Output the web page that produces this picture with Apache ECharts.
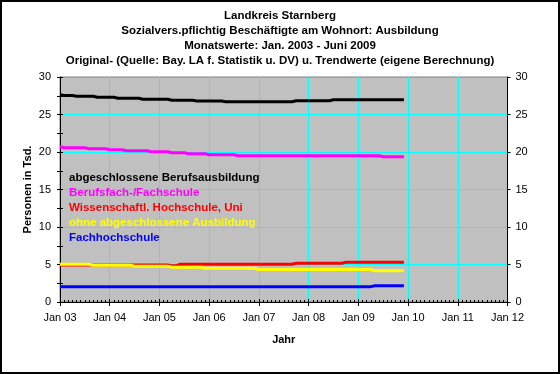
<!DOCTYPE html>
<html><head><meta charset="utf-8">
<script src="https://cdn.jsdelivr.net/npm/echarts@6/dist/echarts.min.js"></script>
<style>html,body{margin:0;padding:0;background:#fff}#c{width:560px;height:374px}</style>
</head><body><div id="c"></div>
<script>
// ---- data ----
const titleLines = [
  'Landkreis Starnberg',
  'Sozialvers.pflichtig Beschäftigte am Wohnort: Ausbildung',
  'Monatswerte: Jan. 2003 - Juni 2009',
  'Original- (Quelle: Bay. LA f. Statistik u. DV) u. Trendwerte (eigene Berechnung)'
];
const xTickLabels = ['Jan 03','Jan 04','Jan 05','Jan 06','Jan 07','Jan 08','Jan 09','Jan 10','Jan 11','Jan 12'];
const xAxisName = 'Jahr';
const yAxisName = 'Personen in Tsd.';
const seriesNames = [
  'abgeschlossene Berufsausbildung',
  'Berufsfach-/Fachschule',
  'Wissenschaftl. Hochschule, Uni',
  'ohne abgeschlossene Ausbildung',
  'Fachhochschule'
];
// monthly values Jan 2003 .. Dec 2009 (thousands)
const berufsausbildung = [
  27.62,27.53,27.53,27.53,27.43,27.43,27.43,27.43,27.43,27.30,27.30,27.30,
  27.30,27.30,27.17,27.17,27.17,27.17,27.17,27.17,27.03,27.03,27.03,27.03,
  27.03,27.03,27.03,26.90,26.90,26.90,26.90,26.90,26.90,26.80,26.80,26.80,
  26.80,26.80,26.80,26.80,26.70,26.70,26.70,26.70,26.70,26.70,26.70,26.70,
  26.70,26.70,26.70,26.70,26.70,26.70,26.70,26.70,26.70,26.83,26.83,26.83,
  26.83,26.83,26.83,26.83,26.83,26.83,26.97,26.97,26.97,26.97,26.97,26.97,
  26.97,26.97,26.97,26.97,26.97,26.97,26.97,26.97,26.97,26.97,26.97,26.97
];
const berufsfachschule = [
  20.70,20.57,20.57,20.57,20.57,20.57,20.57,20.44,20.44,20.44,20.44,20.44,
  20.30,20.30,20.30,20.30,20.17,20.17,20.17,20.17,20.17,20.17,20.04,20.04,
  20.04,20.04,20.04,19.90,19.90,19.90,19.90,19.77,19.77,19.77,19.77,19.77,
  19.64,19.64,19.64,19.64,19.64,19.64,19.64,19.50,19.50,19.50,19.50,19.50,
  19.50,19.50,19.50,19.50,19.50,19.50,19.50,19.50,19.50,19.50,19.50,19.50,
  19.50,19.50,19.50,19.50,19.50,19.50,19.50,19.50,19.50,19.50,19.50,19.50,
  19.50,19.50,19.50,19.50,19.50,19.50,19.37,19.37,19.37,19.37,19.37,19.37
];
const hochschuleUni = [
  4.93,4.93,4.93,4.93,4.93,4.93,4.93,4.93,4.93,4.93,4.93,4.93,
  4.93,4.93,4.93,4.93,4.93,4.93,4.93,4.93,4.93,4.93,4.93,4.93,
  4.93,4.93,4.93,4.82,4.82,5.04,5.04,5.04,5.04,5.04,5.04,5.04,
  5.04,5.04,5.04,5.04,5.04,5.04,5.04,5.04,5.04,5.04,5.04,5.04,
  5.04,5.04,5.04,5.04,5.04,5.04,5.04,5.04,5.04,5.17,5.17,5.17,
  5.17,5.17,5.17,5.17,5.17,5.17,5.17,5.17,5.17,5.29,5.29,5.29,
  5.29,5.29,5.29,5.29,5.29,5.29,5.29,5.29,5.29,5.29,5.29,5.29
];
const ohneAusbildung = [
  5.03,5.03,5.03,5.03,5.03,5.03,5.03,5.03,4.90,4.90,4.90,4.90,
  4.90,4.90,4.90,4.90,4.90,4.90,4.77,4.77,4.77,4.77,4.77,4.77,
  4.77,4.77,4.77,4.63,4.63,4.63,4.63,4.63,4.63,4.63,4.63,4.50,
  4.50,4.50,4.50,4.50,4.50,4.50,4.50,4.50,4.50,4.50,4.50,4.50,
  4.33,4.33,4.33,4.33,4.33,4.33,4.33,4.33,4.33,4.33,4.33,4.33,
  4.33,4.33,4.33,4.33,4.33,4.33,4.33,4.33,4.33,4.33,4.33,4.33,
  4.33,4.33,4.33,4.33,4.17,4.17,4.17,4.17,4.17,4.17,4.17,4.17
];
const fachhochschule = [
  2.05,2.05,2.05,2.05,2.05,2.05,2.05,2.05,2.05,2.05,2.05,2.05,
  2.05,2.05,2.05,2.05,2.05,2.05,2.05,2.05,2.05,2.05,2.05,2.05,
  2.05,2.05,2.05,2.05,2.05,2.05,2.05,2.05,2.05,2.05,2.05,2.05,
  2.05,2.05,2.05,2.05,2.05,2.05,2.05,2.05,2.05,2.05,2.05,2.05,
  2.05,2.05,2.05,2.05,2.05,2.05,2.05,2.05,2.05,2.05,2.05,2.05,
  2.05,2.05,2.05,2.05,2.05,2.05,2.05,2.05,2.05,2.05,2.05,2.05,
  2.05,2.05,2.05,2.05,2.17,2.17,2.17,2.17,2.17,2.17,2.17,2.17
];
const seriesValues = [berufsausbildung, berufsfachschule, hochschuleUni, ohneAusbildung, fachhochschule];

// ---- style ----
const colors = ['#000000','#FF00FF','#FF0000','#FFFF00','#0000FF'];
const FONT = '"Liberation Sans", Arial, sans-serif';

const chart = echarts.init(document.getElementById('c'), null, {renderer:'canvas'});

function xAx(extra){
  return Object.assign({
    type:'value', min:0, max:108, interval:12, position:'bottom',
    axisLine:{show:true, lineStyle:{color:'#000', width:1}},
    axisTick:{show:true, inside:false, length:4, lineStyle:{color:'#000'}},
    axisLabel:{show:true, color:'#000', fontFamily:FONT, fontSize:11, margin:10,
      formatter:(v)=>xTickLabels[Math.round(v/12)]},
    splitLine:{show:true, showMinLine:false, showMaxLine:false, lineStyle:{color:'#00FFFF', width:1, opacity:1}}
  }, extra||{});
}
function yAx(pos, extra){
  return Object.assign({
    type:'value', min:0, max:30, interval:5, position:pos,
    axisLine:{show:true, onZero:false, lineStyle:{color:'#000', width:1}},
    axisTick:{show:true, inside:false, length:3, lineStyle:{color:'#000'}},
    axisLabel:{show:true, color:'#000', fontFamily:FONT, fontSize:11, margin: pos==='left'?9:8},
    splitLine:{show:false}
  }, extra||{});
}

const option = {
  animation:false,
  backgroundColor:'#FFFFFF',
  title: titleLines.map((t,i)=>({
    text:t, left:'center', top:8+15*i, padding:0,
    textStyle:{fontFamily:FONT, fontSize:11.5, fontWeight:'bold', color:'#000', lineHeight:15}
  })),
  grid:{left:60, right:52.5, top:77, bottom:72, show:true, backgroundColor:'#C0C0C0', borderColor:'#808080', borderWidth:1},
  legend:{
    orient:'vertical', left:64, top:170, padding:0, itemGap:0,
    icon:'rect', itemWidth:0, itemHeight:0, selectedMode:false,
    textStyle:{fontFamily:FONT, fontSize:11.5, fontWeight:'bold', lineHeight:15, padding:[0,0,0,0]},
    data: seriesNames.map((n,i)=>({name:n, textStyle:{color:colors[i]}}))
  },
  xAxis:[
    xAx({name:xAxisName, nameLocation:'middle', nameGap:32, nameMoveOverlap:false,
      nameTextStyle:{fontFamily:FONT, fontSize:11, fontWeight:'bold', color:'#000'}}),
    xAx({axisLine:{show:false}, axisLabel:{show:false}, splitLine:{show:false},
      axisTick:{show:true, inside:true, length:3, lineStyle:{color:'#000'}},
      minorTick:{show:true, splitNumber:12, length:2, lineStyle:{color:'#000'}}})
  ],
  yAxis:[
    yAx('left', {name:yAxisName, nameLocation:'middle', nameGap:27, nameMoveOverlap:false,
      nameTextStyle:{fontFamily:FONT, fontSize:11, fontWeight:'bold', color:'#000'},
      splitLine:{show:true, showMinLine:false, showMaxLine:false, lineStyle:{color:'#00FFFF', width:1, opacity:1}}}),
    yAx('right'),
    yAx('left', {axisLine:{show:false}, axisLabel:{show:false},
      axisTick:{show:true, inside:true, length:3, lineStyle:{color:'#000'}},
      minorTick:{show:true, splitNumber:2, length:3, lineStyle:{color:'#000'}}}),
    yAx('right', {axisLine:{show:false}, axisLabel:{show:false},
      axisTick:{show:true, inside:true, length:3, lineStyle:{color:'#000'}},
      minorTick:{show:true, splitNumber:2, length:3, lineStyle:{color:'#000'}}})
  ],
  series: seriesNames.map((n,i)=>({
    name:n, type:'line', xAxisIndex:0, yAxisIndex:0,
    showSymbol:false, symbol:'none',
    lineStyle:{color:colors[i], width:3},
    itemStyle:{color:colors[i]},
    data: seriesValues[i].map((v,k)=>[k, v])
  })),
  graphic:[{type:'rect', shape:{x:1, y:1, width:558, height:372}, style:{fill:null, stroke:'#000', lineWidth:2}, silent:true, z:100}]
};
chart.setOption(option);
</script></body></html>
